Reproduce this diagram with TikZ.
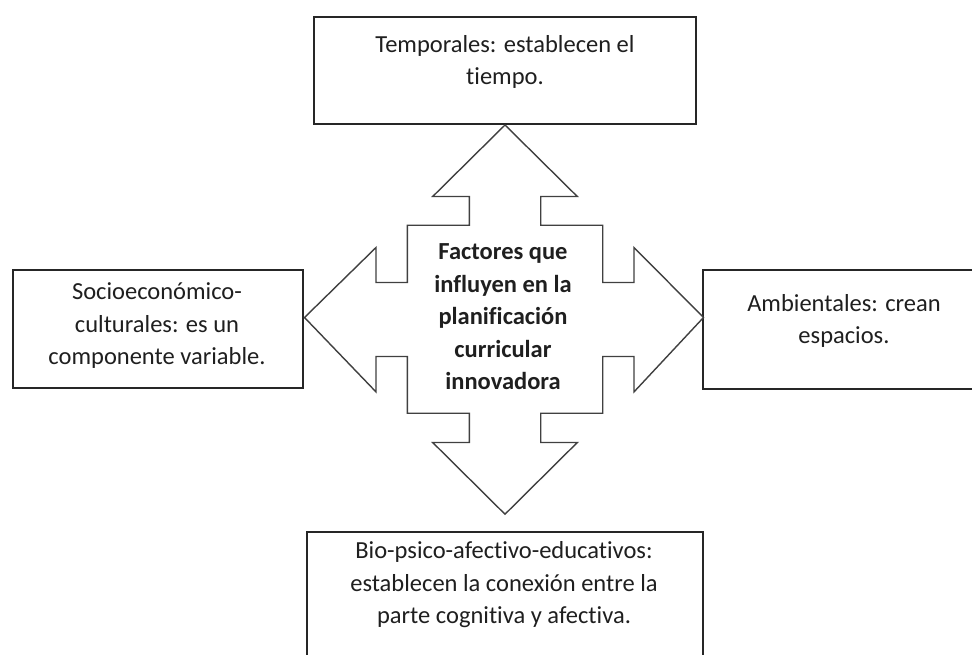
\documentclass[tikz,border=0pt]{standalone}
\usepackage{fontspec}
\setmainfont{Carlito}[Ligatures={CommonOff,ContextualOff,RareOff}]
\usetikzlibrary{calc}
\tikzset{
  boxstyle/.style={draw=black!85, line width=1.6pt, fill=white, inner sep=0pt},
  txtstyle/.style={align=center, inner sep=0pt, text=black!88, font=\fontsize{24.5}{32.5}\selectfont},
  crossstyle/.style={draw=black!75, line width=1.4pt, line join=miter, fill=white}
}
\begin{document}
\begin{tikzpicture}[x=1pt,y=-1pt]
\useasboundingbox (0,0) rectangle (972,654);
\fill[white] (0,0) rectangle (972,654);
\clip (0,0) rectangle (972,654);
% boxes
\node[boxstyle, minimum width=382, minimum height=107] (topbox) at (505,70.5) {};
\node[boxstyle, minimum width=290, minimum height=118] (leftbox) at (158,329) {};
\node[boxstyle, minimum width=282, minimum height=119] (rightbox) at (844,329.5) {};
\node[boxstyle, minimum width=396, minimum height=150] (botbox) at (505,607) {};
% cross arrow
\coordinate (c) at (505,320.3);
\draw[crossstyle] ($(c)+(0,-195.3)$) -- ++(72.3,71.5) -- ++(-36.6,0) -- ++(0,28.7) -- ++(62,0) -- ++(0,57.3)
  -- ++(31.3,0) -- ++(0,-35) -- ++(69.5,70) -- ++(-69.5,74.4) -- ++(0,-35.4) -- ++(-31.3,0) -- ++(0,56.7)
  -- ++(-62,0) -- ++(0,29.3) -- ++(36.6,0) -- ++(-72.3,71.7) -- ++(-72.3,-71.7) -- ++(36.6,0) -- ++(0,-29.3)
  -- ++(-62,0) -- ++(0,-56.7) -- ++(-31.3,0) -- ++(0,35.4) -- ++(-71.5,-74.4) -- ++(71.5,-70) -- ++(0,35)
  -- ++(31.3,0) -- ++(0,-57.3) -- ++(62,0) -- ++(0,-28.7) -- ++(-36.6,0) -- cycle;
% texts
\node[txtstyle] (toptxt) at (505,62) {Temporales: establecen el\\tiempo.};
\node[txtstyle] (lefttxt) at (157,326) {Socioeconómico-\\culturales: es un\\componente variable.};
\node[txtstyle] (righttxt) at (844,321) {Ambientales: crean\\espacios.};
\node[txtstyle] (bottxt) at (504,585) {Bio-psico-afectivo-educativos:\\establecen la conexión entre la\\parte cognitiva y afectiva.};
\node[txtstyle, font=\bfseries\fontsize{24.5}{32.5}\selectfont] (centertxt) at (503,317) {Factores que\\influyen en la\\planificación\\curricular\\innovadora};
\end{tikzpicture}
\end{document}
